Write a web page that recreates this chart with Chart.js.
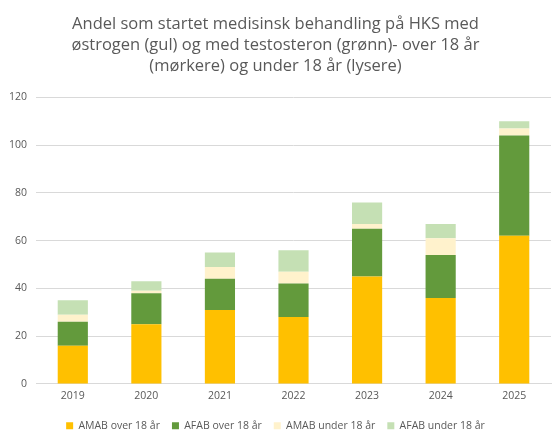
<!DOCTYPE html>
<html>
<head>
<meta charset="utf-8">
<script src="https://cdn.jsdelivr.net/npm/chart.js@4/dist/chart.umd.min.js"></script>
<style>
html,body{margin:0;padding:0;background:#fff;}
#wrap{width:559px;height:441px;position:relative;}
</style>
</head>
<body>
<div id="wrap"><canvas id="c"></canvas></div>
<script>
const categories = ["2019","2020","2021","2022","2023","2024","2025"];
const amabOver18 = [16, 25, 31, 28, 45, 36, 62];
const afabOver18 = [10, 13, 13, 14, 20, 18, 42];
const amabUnder18 = [3, 1, 5, 5, 2, 7, 3];
const afabUnder18 = [6, 4, 6, 9, 9, 6, 3];
const seriesNames = ["AMAB over 18 år","AFAB over 18 år","AMAB under 18 år","AFAB under 18 år"];
const titleLines = ["Andel som startet medisinsk behandling på HKS med","østrogen (gul) og med testosteron (grønn)- over 18 år","(mørkere) og under 18 år (lysere)"];

const colors = ["#FFC000","#639A3C","#FFF2CC","#C5E0B4"];
const data = [amabOver18, afabOver18, amabUnder18, afabUnder18];

new Chart(document.getElementById('c'), {
  type: 'bar',
  data: {
    labels: categories,
    datasets: data.map((d,i)=>({
      label: seriesNames[i],
      data: d,
      backgroundColor: colors[i],
      borderWidth: 0,
      categoryPercentage: 1,
      barPercentage: 0.41
    }))
  },
  options: {
    responsive: true,
    maintainAspectRatio: false,
    animation: false,
    layout: {padding: {left: 0, right: 8, top: 12, bottom: 0}},
    plugins: {
      title: {
        display: true,
        text: titleLines,
        color: '#595959',
        font: {family: 'Open Sans', size: 16.5, weight: 'normal', lineHeight: 1.26},
        padding: {top: 2, bottom: 21}
      },
      legend: {
        position: 'bottom',
        labels: {
          color: '#595959',
          font: {family: 'Open Sans', size: 10.5},
          boxWidth: 7,
          boxHeight: 7,
          padding: 12
        }
      },
      tooltip: {enabled: false}
    },
    scales: {
      x: {
        stacked: true,
        grid: {display: false, drawTicks: false},
        border: {display: true, color: '#d9d9d9'},
        ticks: {color: '#595959', font: {family: 'Open Sans', size: 10.5}, padding: 6}
      },
      y: {
        stacked: true,
        min: 0, max: 120,
        ticks: {stepSize: 20, color: '#595959', font: {family: 'Open Sans', size: 10.5}, padding: 9},
        grid: {color: '#d9d9d9', drawTicks: false},
        border: {display: false}
      }
    }
  }
});
</script>
</body>
</html>
